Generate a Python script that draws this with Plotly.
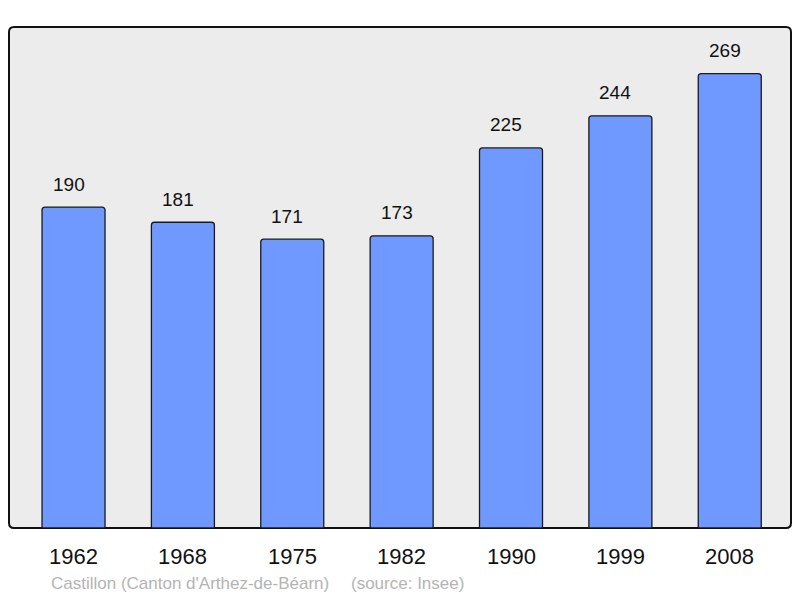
import plotly.graph_objects as go

years = ["1962", "1968", "1975", "1982", "1990", "1999", "2008"]
population = [190, 181, 171, 173, 225, 244, 269]
caption_left = "Castillon (Canton d'Arthez-de-Béarn)"
caption_right = "(source: Insee)"

xs = list(range(len(years)))
FONT = "Liberation Sans, Arial, sans-serif"

fig = go.Figure()
fig.add_trace(go.Bar(
    x=xs, y=population, width=0.576,
    marker=dict(color="#7099ff", line=dict(color="#1a1a1a", width=1.3), cornerradius=3),
    hoverinfo="skip",
))

annotations = []
for x, v in zip(xs, population):
    annotations.append(dict(x=x, y=v, xref="x", yref="y", text=str(v), showarrow=False,
                            yanchor="middle", yshift=23, xshift=-5,
                            font=dict(size=19, color="#111", family=FONT)))
for x, t in zip(xs, years):
    annotations.append(dict(x=x, y=0, xref="x", yref="y", text=t, showarrow=False,
                            yanchor="middle", yshift=-28, font=dict(size=22, color="#111", family=FONT)))
annotations.append(dict(x=0.0512, y=-0.1098, xref="paper", yref="paper", text=caption_left, showarrow=False,
                        xanchor="left", yanchor="middle", font=dict(size=17, color="#b4b4b4", family=FONT)))
annotations.append(dict(x=0.4348, y=-0.1098, xref="paper", yref="paper", text=caption_right, showarrow=False,
                        xanchor="left", yanchor="middle", font=dict(size=17, color="#b4b4b4", family=FONT)))

rx = 5 / 782
ry = 5 / 501
path = (f"M {rx},0 L {1-rx},0 Q 1,0 1,{ry} L 1,{1-ry} Q 1,1 {1-rx},1 "
        f"L {rx},1 Q 0,1 0,{1-ry} L 0,{ry} Q 0,0 {rx},0 Z")

fig.update_layout(
    width=784, height=590,
    margin=dict(l=1, r=1, t=19, b=70),
    paper_bgcolor="white", plot_bgcolor="rgba(0,0,0,0)",
    showlegend=False,
    xaxis=dict(range=[-0.59, 6.56], showticklabels=False, showgrid=False, zeroline=False, fixedrange=True),
    yaxis=dict(range=[0, 296.6], showticklabels=False, showgrid=False, zeroline=False, fixedrange=True),
    shapes=[dict(type="path", path=path, xref="paper", yref="paper", layer="below",
                 fillcolor="#ececec", line=dict(color="#111", width=2))],
    annotations=annotations,
)
fig.write_html("out.html")
